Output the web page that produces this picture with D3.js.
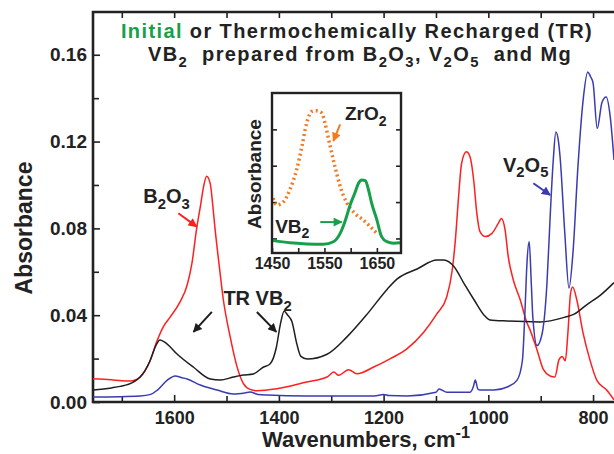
<!DOCTYPE html>
<html>
<head>
<meta charset="utf-8">
<script src="https://cdn.jsdelivr.net/npm/d3@7"></script>
<style>
  body { margin: 0; background: #fff; }
  svg text { font-family: "Liberation Sans", Arial, Helvetica, sans-serif; font-weight: bold; fill: #222; white-space: pre; }
</style>
</head>
<body>
<svg id="chart" width="614" height="454"></svg>
<script>
// ---- spectra: [wavenumber cm-1, absorbance] ----
const trVB2 = [
  [1755, 0.0055], [1720, 0.0065], [1703, 0.0072], [1678, 0.0092], [1665, 0.0115], [1646, 0.019],
  [1635, 0.026], [1627, 0.0286], [1615, 0.027], [1594, 0.022], [1563, 0.016], [1531, 0.0106],
  [1512, 0.0101], [1487, 0.0115], [1468, 0.0124], [1449, 0.0129], [1430, 0.016], [1417, 0.0175],
  [1405, 0.025], [1397, 0.036], [1390, 0.0418], [1383, 0.040], [1375, 0.037], [1366, 0.027],
  [1358, 0.021], [1346, 0.0198], [1308, 0.022], [1270, 0.030], [1231, 0.0406], [1193, 0.052],
  [1174, 0.0567], [1136, 0.0613], [1098, 0.0654], [1085, 0.0654], [1065, 0.0622], [1046, 0.0544],
  [1027, 0.047], [1008, 0.040], [997, 0.0378], [964, 0.0373], [901, 0.0369], [855, 0.039],
  [836, 0.0405], [811, 0.045], [787, 0.049], [760, 0.055]
];
const b2o3 = [
  [1755, 0.0107], [1720, 0.0102], [1700, 0.0098], [1684, 0.0097], [1665, 0.0115], [1646, 0.019],
  [1633, 0.028], [1620, 0.035], [1608, 0.039], [1589, 0.046], [1575, 0.054], [1566, 0.064],
  [1557, 0.080], [1550, 0.090], [1544, 0.099], [1538, 0.104], [1531, 0.1005], [1526, 0.090],
  [1522, 0.080], [1515, 0.065], [1506, 0.047], [1493, 0.030], [1480, 0.0163], [1468, 0.0086],
  [1455, 0.0058], [1442, 0.0052], [1404, 0.0061], [1347, 0.0092], [1308, 0.0115], [1295, 0.0138],
  [1286, 0.0123], [1267, 0.0149], [1251, 0.013], [1219, 0.0161], [1187, 0.020], [1155, 0.0246],
  [1123, 0.0323], [1098, 0.0407], [1080, 0.048], [1069, 0.0607], [1063, 0.0745], [1057, 0.094],
  [1051, 0.110], [1042, 0.1153], [1035, 0.113], [1028, 0.1023], [1022, 0.087], [1016, 0.0785],
  [1006, 0.0762], [993, 0.0777], [981, 0.0823], [975, 0.0846], [968, 0.0793], [962, 0.067],
  [952, 0.056], [939, 0.047], [927, 0.037], [920, 0.033], [907, 0.024], [895, 0.015],
  [882, 0.012], [873, 0.0115], [865, 0.0195], [859, 0.021], [853, 0.019], [848, 0.032],
  [843, 0.050], [839, 0.053], [831, 0.047], [819, 0.0317], [806, 0.0194], [793, 0.0101],
  [774, 0.0055], [760, 0.001]
];
const v2o5 = [
  [1755, 0.0023], [1665, 0.0028], [1645, 0.0035], [1632, 0.0055], [1613, 0.0101], [1598, 0.012],
  [1585, 0.0112], [1575, 0.0106], [1550, 0.0078], [1518, 0.0055], [1487, 0.0037], [1465, 0.0042],
  [1455, 0.0046], [1440, 0.0035], [1422, 0.0032], [1347, 0.0028], [1218, 0.0028], [1200, 0.0035],
  [1190, 0.003], [1155, 0.0028], [1100, 0.0045], [1094, 0.006], [1079, 0.0045], [1035, 0.0045],
  [1028, 0.0075], [1025, 0.0101], [1020, 0.006], [1016, 0.0055], [989, 0.0055], [964, 0.0069],
  [945, 0.0101], [935, 0.019], [930, 0.042], [926, 0.065], [922, 0.074], [918, 0.055],
  [915, 0.039], [907, 0.026], [897, 0.0318], [888, 0.0548], [882, 0.085], [876, 0.1115],
  [871, 0.1244], [866, 0.12], [863, 0.113], [854, 0.078], [846, 0.0525], [838, 0.070],
  [829, 0.108], [819, 0.139], [810, 0.152], [805, 0.150], [800, 0.147], [792, 0.126],
  [783, 0.138], [775, 0.1405], [767, 0.131], [760, 0.1115]
];
// inset (arbitrary absorbance units)
const insetZrO2 = [
  [1452, 2.11], [1459, 1.92], [1472, 2.01], [1484, 2.34], [1497, 2.89], [1507, 3.53],
  [1516, 4.17], [1526, 4.49], [1535, 4.51], [1545, 4.45], [1551, 4.17], [1561, 3.53],
  [1570, 2.98], [1580, 2.43], [1593, 1.97], [1608, 1.69], [1624, 1.51], [1637, 1.33], [1650, 1.14]
];
const insetVB2 = [
  [1452, 0.94], [1484, 0.88], [1516, 0.85], [1548, 0.84], [1567, 0.91], [1580, 1.14],
  [1589, 1.46], [1599, 1.92], [1608, 2.25], [1615, 2.52], [1621, 2.61], [1628, 2.59],
  [1634, 2.34], [1640, 1.97], [1650, 1.51], [1659, 1.05], [1669, 0.91], [1682, 0.87], [1694, 0.88]
];

const xMajor = [1600, 1400, 1200, 1000, 800];
const xMinor = [1700, 1500, 1300, 1100, 900];
const yMajor = [0.00, 0.04, 0.08, 0.12, 0.16];
const yMinor = [0.02, 0.06, 0.10, 0.14];
const insetXMajor = [1450, 1550, 1650];
const insetXMinor = [1500, 1600];
const insetYTicks = [1, 2, 3, 4];

const colors = { tr: '#1e1e1e', b2o3: '#ff1f1f', v2o5: '#3b3bb0', zro2: '#f47a22', vb2: '#17a04a' };

// ---- layout ----
const svg = d3.select('#chart');
const pL = 93, pR = 614, pT = 12, pB = 402;
const x = d3.scaleLinear().domain([1755, 760]).range([pL, pR]);
const y = d3.scaleLinear().domain([0, 0.1797]).range([pB, pT]);

const defs = svg.append('defs');
defs.append('clipPath').attr('id', 'plotClip')
  .append('rect').attr('x', pL).attr('y', pT).attr('width', pR - pL).attr('height', pB - pT);
Object.entries(colors).forEach(([k, c]) => {
  defs.append('marker')
    .attr('id', 'arrow-' + k)
    .attr('viewBox', '0 0 10 10')
    .attr('refX', 9).attr('refY', 5)
    .attr('markerUnits', 'userSpaceOnUse')
    .attr('markerWidth', 10).attr('markerHeight', 9)
    .attr('orient', 'auto')
    .append('path').attr('d', 'M0,0 L10,5 L0,10 Z').attr('fill', c);
});

// axes (ticks point inward)
const axisStyle = (g) => {
  g.select('.domain').remove();
  g.selectAll('.tick line').attr('stroke', '#222').attr('stroke-width', 1.6);
  g.selectAll('.tick text').attr('fill', '#222');
};
svg.append('g').attr('transform', `translate(0,${pB})`)
  .call(d3.axisBottom(x).tickValues(xMajor).tickSize(-7).tickPadding(9).tickFormat(d3.format('d')))
  .call(axisStyle).attr('font-size', 18).attr('font-family', null);
svg.append('g').attr('transform', `translate(0,${pB})`)
  .call(d3.axisBottom(x).tickValues(xMinor).tickSize(-6).tickFormat(''))
  .call(axisStyle);
svg.append('g').attr('transform', `translate(0,${pT})`)
  .call(d3.axisTop(x).tickValues(xMajor.concat(xMinor)).tickSize(-6).tickFormat(''))
  .call(axisStyle);
svg.append('g').attr('transform', `translate(${pL},0)`)
  .call(d3.axisLeft(y).tickValues(yMajor).tickSize(-7).tickPadding(6).tickFormat(d3.format('.2f')))
  .call(axisStyle).attr('font-size', 19).attr('font-family', null);
svg.append('g').attr('transform', `translate(${pL},0)`)
  .call(d3.axisLeft(y).tickValues(yMinor).tickSize(-6).tickFormat(''))
  .call(axisStyle);

// frame
svg.append('path')
  .attr('d', `M${pR + 2},${pT}H${pL}V${pB}H${pR + 2}`)
  .attr('fill', 'none').attr('stroke', '#222').attr('stroke-width', 2.6);

// curves
const line = d3.line().x((d) => x(d[0])).y((d) => y(d[1])).curve(d3.curveMonotoneX);
const curves = svg.append('g').attr('clip-path', 'url(#plotClip)');
[[b2o3, colors.b2o3], [trVB2, colors.tr], [v2o5, colors.v2o5]].forEach(([data, c]) => {
  curves.append('path').datum(data).attr('d', line)
    .attr('fill', 'none').attr('stroke', c).attr('stroke-width', 1.5).attr('stroke-linejoin', 'round');
});

// rich text helper: parts = [text, 'sub'|'sup'|null, color]
const richText = (parent, px, py, parts, size, anchor) => {
  const t = parent.append('text').attr('x', px).attr('y', py)
    .attr('font-size', size).attr('text-anchor', anchor || 'start');
  let shift = 0;
  parts.forEach(([s, kind, c]) => {
    const target = kind === 'sub' ? size * 0.28 : kind === 'sup' ? -size * 0.42 : 0;
    const span = t.append('tspan').text(s).attr('dy', target - shift);
    if (kind) span.attr('font-size', size * 0.74);
    if (c) span.attr('fill', c);
    shift = target;
  });
  return t;
};
const arrow = (parent, p0, p1, key) => {
  parent.append('line')
    .attr('x1', p0[0]).attr('y1', p0[1]).attr('x2', p1[0]).attr('y2', p1[1])
    .attr('stroke', colors[key]).attr('stroke-width', 2)
    .attr('marker-end', `url(#arrow-${key})`);
};

// title
richText(svg, 357, 38, [['Initial', null, colors.vb2], [' or Thermochemically Recharged (TR)']], 20, 'middle')
  .attr('letter-spacing', 1.4);
richText(svg, 360, 61, [['VB'], ['2', 'sub'], ['  prepared from B'], ['2', 'sub'], ['O'], ['3', 'sub'],
  [', V'], ['2', 'sub'], ['O'], ['5', 'sub'], ['  and Mg']], 20, 'middle')
  .attr('letter-spacing', 1.4);

// axis titles
richText(svg, 262, 447, [['Wavenumbers, cm'], ['-1', 'sup']], 22);
svg.append('text').attr('transform', 'translate(32,228) rotate(-90)')
  .attr('text-anchor', 'middle').attr('font-size', 23).text('Absorbance');

// main annotations (placed in data units)
richText(svg, x(1659), y(0.0915), [['B'], ['2', 'sub'], ['O'], ['3', 'sub']], 20);
arrow(svg, [x(1592), y(0.087)], [x(1557), y(0.0808)], 'b2o3');
richText(svg, x(1506), y(0.0446), [['TR VB'], ['2', 'sub']], 20);
arrow(svg, [x(1528), y(0.0415)], [x(1563), y(0.0323)], 'tr');
arrow(svg, [x(1442), y(0.0415)], [x(1405), y(0.0323)], 'tr');
richText(svg, x(972), y(0.1061), [['V'], ['2', 'sub'], ['O'], ['5', 'sub']], 20);
arrow(svg, [x(914), y(0.1008)], [x(882), y(0.0954)], 'v2o5');

// ---- inset ----
const iL = 272, iR = 401, iT = 93, iB = 253;
const xi = d3.scaleLinear().domain([1450, 1696]).range([iL, iR]);
const yi = d3.scaleLinear().domain([0.6, 5.0]).range([iB, iT]);
const inset = svg.append('g');
inset.append('rect').attr('x', iL).attr('y', iT).attr('width', iR - iL).attr('height', iB - iT)
  .attr('fill', '#fff');
inset.append('g').attr('transform', `translate(0,${iB})`)
  .call(d3.axisBottom(xi).tickValues(insetXMajor.concat(insetXMinor)).tickSize(-5).tickPadding(5)
    .tickFormat((d) => (insetXMajor.includes(d) ? d : '')))
  .call(axisStyle).attr('font-size', 16).attr('font-family', null);
inset.append('g').attr('transform', `translate(${iL},0)`)
  .call(d3.axisLeft(yi).tickValues(insetYTicks).tickSize(-5).tickFormat(''))
  .call(axisStyle);
inset.append('g').attr('transform', `translate(${iR},0)`)
  .call(d3.axisRight(yi).tickValues(insetYTicks).tickSize(-5).tickFormat(''))
  .call(axisStyle);
const iline = d3.line().x((d) => xi(d[0])).y((d) => yi(d[1])).curve(d3.curveMonotoneX);
inset.append('path').datum(insetZrO2).attr('d', iline)
  .attr('fill', 'none').attr('stroke', colors.zro2).attr('stroke-width', 3.5).attr('stroke-dasharray', '2,3');
inset.append('path').datum(insetVB2).attr('d', iline)
  .attr('fill', 'none').attr('stroke', colors.vb2).attr('stroke-width', 3).attr('stroke-linejoin', 'round');
inset.append('rect').attr('x', iL).attr('y', iT).attr('width', iR - iL).attr('height', iB - iT)
  .attr('fill', 'none').attr('stroke', '#222').attr('stroke-width', 2.4);
inset.append('text').attr('transform', `translate(261,${(iT + iB) / 2 + 1}) rotate(-90)`)
  .attr('text-anchor', 'middle').attr('font-size', 19).text('Absorbance');
richText(inset, xi(1589), yi(4.25), [['ZrO'], ['2', 'sub']], 19);
arrow(inset, [xi(1580), yi(4.14)], [xi(1567), yi(3.68)], 'zro2');
richText(inset, xi(1456), yi(1.15), [['VB'], ['2', 'sub']], 19);
arrow(inset, [xi(1542), yi(1.45)], [xi(1583), yi(1.45)], 'vb2');
</script>
</body>
</html>
